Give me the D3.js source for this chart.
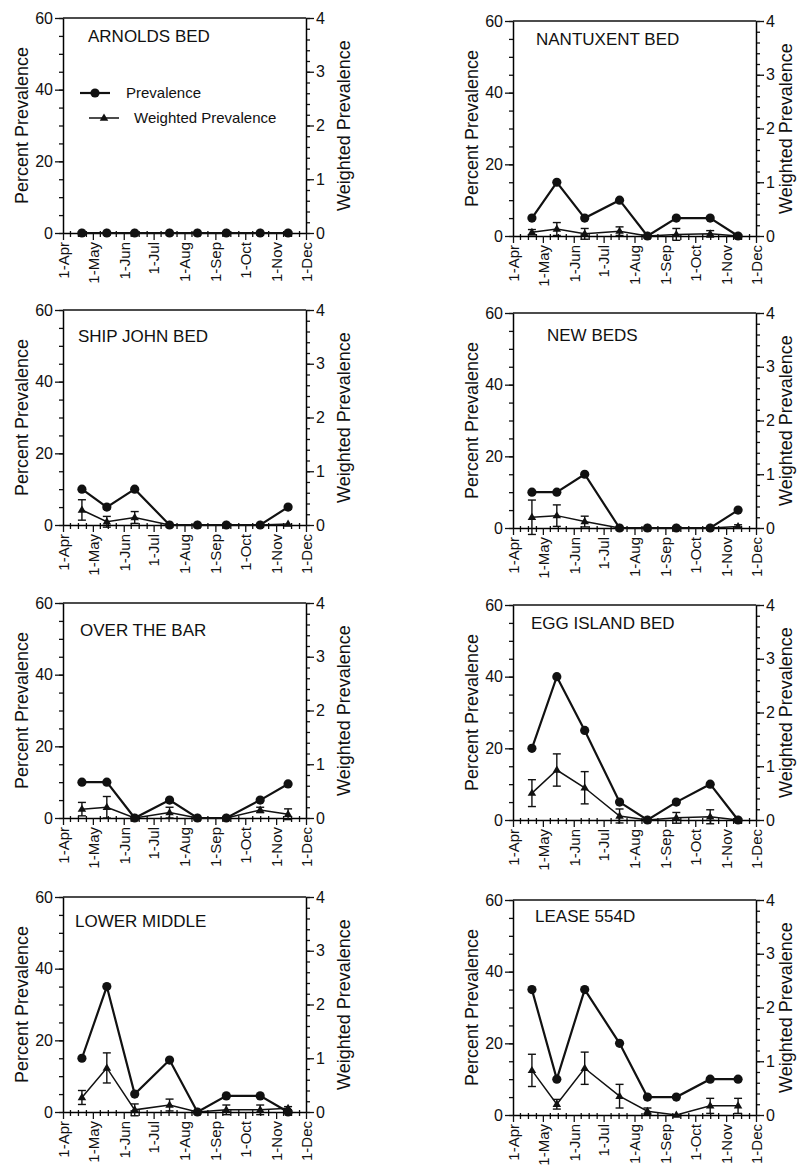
<!DOCTYPE html>
<html>
<head>
<meta charset="utf-8">
<script src="https://cdn.jsdelivr.net/npm/d3@7"></script>
<style>
  body { margin: 0; background: #fff; }
  text { font-family: "Liberation Sans", Arial, Helvetica, sans-serif; fill: #111; }
</style>
</head>
<body>
<div id="chart"></div>
<script>
// sampling dates (same for all beds)
const sampleDates = ["1996-04-20", "1996-05-15", "1996-06-12", "1996-07-17",
                     "1996-08-14", "1996-09-12", "1996-10-16", "1996-11-13"];

const beds = ["ARNOLDS BED", "NANTUXENT BED", "SHIP JOHN BED", "NEW BEDS",
              "OVER THE BAR", "EGG ISLAND BED", "LOWER MIDDLE", "LEASE 554D"];

// percent prevalence
const prevalence = [
    [0, 0, 0, 0, 0, 0, 0, 0],
    [5, 15, 5, 10, 0, 5, 5, 0],
    [10, 5, 10, 0, 0, 0, 0, 5],
    [10, 10, 15, 0, 0, 0, 0, 5],
    [10, 10, 0, 5, 0, 0, 5, 9.5],
    [20, 40, 25, 5, 0, 5, 10, 0],
    [15, 35, 5, 14.5, 0, 4.5, 4.5, 0],
    [35, 10, 35, 20, 5, 5, 10, 10]
];

// weighted prevalence and its standard error
const weighted = [
    [0, 0, 0, 0, 0, 0, 0, 0],
    [0.07, 0.13, 0.04, 0.09, 0, 0.03, 0.04, 0],
    [0.28, 0.06, 0.14, 0, 0, 0, 0, 0.02],
    [0.2, 0.23, 0.12, 0, 0, 0, 0, 0.03],
    [0.165, 0.2, 0, 0.1, 0, 0, 0.15, 0.07],
    [0.5, 0.93, 0.6, 0.075, 0, 0.04, 0.06, 0],
    [0.27, 0.82, 0.04, 0.13, 0, 0.04, 0.04, 0.07],
    [0.83, 0.2, 0.87, 0.35, 0.07, 0, 0.17, 0.17]
];
const weightedSE = [
    [0, 0, 0, 0, 0, 0, 0, 0],
    [0.05, 0.12, 0.1, 0.08, 0, 0.11, 0.06, 0],
    [0.19, 0.1, 0.11, 0, 0, 0, 0, 0],
    [0.32, 0.2, 0.1, 0, 0, 0, 0, 0.03],
    [0.125, 0.2, 0, 0.1, 0, 0, 0.05, 0.1],
    [0.25, 0.3, 0.3, 0.13, 0, 0.1, 0.13, 0],
    [0.13, 0.28, 0.11, 0.11, 0, 0.09, 0.09, 0.03],
    [0.3, 0.09, 0.3, 0.22, 0.06, 0, 0.14, 0.14]
];

const pctTicks = [0, 20, 40, 60];
const wTicks = [0, 1, 2, 3, 4];
const legendLabels = ["Prevalence", "Weighted Prevalence"];

// layout
const totalW = 800, totalH = 1174;
const panelW = 243, panelH = 215;
const colX = [63, 513];
const rowY = [[18, 310, 603, 897], [21, 313, 605, 900]];
const rightTitleGap = [44, 36];
const titleOffset = [[25, 24], [23, 24], [15, 32], [34, 28], [17, 33], [18, 24], [12, 30], [22, 22]];

const parse = d3.timeParse("%Y-%m-%d");
const dates = sampleDates.map(parse);

const svg = d3.select("#chart")
    .append("svg")
    .attr("width", totalW)
    .attr("height", totalH);

const x = d3.scaleTime()
    .domain([new Date(1996, 3, 1), new Date(1996, 11, 1)])
    .range([0, panelW]);
const yL = d3.scaleLinear().domain([0, 60]).range([panelH, 0]);
const yR = d3.scaleLinear().domain([0, 4]).range([panelH, 0]);

const minorDays = d3.timeDay.range(x.domain()[0], x.domain()[1])
    .filter(d => [8, 16, 24].includes(d.getDate()));

function tri(cx, cy, s) {
    return `M${cx},${cy - s}L${cx + s * 0.95},${cy + s * 0.6}L${cx - s * 0.95},${cy + s * 0.6}Z`;
}

function panel(i) {
    const col = i % 2;
    const row = Math.floor(i / 2);
    const g = svg.append("g")
        .attr("transform", `translate(${colX[col]},${rowY[col][row]})`);

    // frame top
    g.append("line")
        .attr("x1", 0).attr("x2", panelW)
        .attr("y1", 0).attr("y2", 0)
        .attr("stroke", "#111").attr("stroke-width", 1.5);

    // left axis
    g.append("g")
        .call(d3.axisLeft(yL).tickValues(d3.range(0, 61, 5)).tickSize(4).tickFormat(""))
        .call(a => a.select(".domain").remove());
    const la = g.append("g")
        .call(d3.axisLeft(yL).tickValues(pctTicks).tickSize(8).tickSizeOuter(0).tickPadding(2));
    la.select(".domain").attr("stroke-width", 1.5);
    la.selectAll("text").style("font-size", "16px");

    // right axis
    const ra = g.append("g").attr("transform", `translate(${panelW},0)`);
    ra.append("g")
        .call(d3.axisRight(yR).tickValues(d3.range(0, 4.01, 0.2)).tickSize(4).tickFormat(""))
        .call(a => a.select(".domain").remove());
    const rb = ra.append("g")
        .call(d3.axisRight(yR).tickValues(wTicks).tickSize(8).tickSizeOuter(0).tickPadding(2)
            .tickFormat(d3.format("d")));
    rb.select(".domain").attr("stroke-width", 1.5);
    rb.selectAll("text").style("font-size", "16px");

    // bottom axis
    g.append("g")
        .attr("transform", `translate(0,${panelH})`)
        .call(d3.axisBottom(x).tickValues(minorDays).tickSize(4).tickFormat(""))
        .call(a => a.select(".domain").remove())
        .selectAll(".tick line").attr("y1", -2);
    const ba = g.append("g")
        .attr("transform", `translate(0,${panelH})`)
        .call(d3.axisBottom(x).ticks(d3.timeMonth.every(1)).tickSize(7).tickSizeOuter(0)
            .tickFormat(d3.timeFormat("%-d-%b")));
    ba.select(".domain").attr("stroke-width", 1.5);
    ba.selectAll("text")
        .attr("transform", "rotate(-90)")
        .attr("x", -9)
        .attr("y", 0)
        .attr("dy", "0.35em")
        .style("text-anchor", "end")
        .style("font-size", "15px");
    g.selectAll(".tick line").attr("stroke", "#111").attr("stroke-width", 1.3);

    // axis titles
    g.append("text")
        .attr("transform", "rotate(-90)")
        .attr("x", -panelH / 2)
        .attr("y", -35)
        .style("text-anchor", "middle")
        .style("font-size", "18px")
        .text("Percent Prevalence");
    g.append("text")
        .attr("transform", "rotate(-90)")
        .attr("x", -panelH / 2)
        .attr("y", panelW + rightTitleGap[col])
        .style("text-anchor", "middle")
        .style("font-size", "18px")
        .text("Weighted Prevalence");

    // bed name
    g.append("text")
        .attr("x", titleOffset[i][0])
        .attr("y", titleOffset[i][1])
        .style("font-size", "17px")
        .text(beds[i]);

    const pts = dates.map((d, k) => ({
        date: d, p: prevalence[i][k], w: weighted[i][k], se: weightedSE[i][k]
    }));

    // weighted prevalence with error bars
    g.append("path")
        .datum(pts)
        .attr("fill", "none")
        .attr("stroke", "#111")
        .attr("stroke-width", 1.5)
        .attr("d", d3.line().x(d => x(d.date)).y(d => yR(d.w)));

    const eb = g.selectAll(".err")
        .data(pts.filter(d => d.se > 0))
        .join("g")
        .attr("stroke", "#111")
        .attr("stroke-width", 1.4);
    eb.append("line")
        .attr("x1", d => x(d.date)).attr("x2", d => x(d.date))
        .attr("y1", d => yR(d.w - d.se)).attr("y2", d => yR(d.w + d.se));
    eb.append("line")
        .attr("x1", d => x(d.date) - 4).attr("x2", d => x(d.date) + 4)
        .attr("y1", d => yR(d.w + d.se)).attr("y2", d => yR(d.w + d.se));
    eb.append("line")
        .attr("x1", d => x(d.date) - 4).attr("x2", d => x(d.date) + 4)
        .attr("y1", d => yR(d.w - d.se)).attr("y2", d => yR(d.w - d.se));

    g.selectAll(".tri")
        .data(pts)
        .join("path")
        .attr("fill", "#111")
        .attr("d", d => tri(x(d.date), yR(d.w), 4.5));

    // percent prevalence
    g.append("path")
        .datum(pts)
        .attr("fill", "none")
        .attr("stroke", "#111")
        .attr("stroke-width", 2.2)
        .attr("d", d3.line().x(d => x(d.date)).y(d => yL(d.p)));

    g.selectAll(".dot")
        .data(pts)
        .join("circle")
        .attr("cx", d => x(d.date))
        .attr("cy", d => yL(d.p))
        .attr("r", 4.6)
        .attr("fill", "#111");

    if (i === 0) {
        const lg = g.append("g");
        lg.append("line")
            .attr("x1", 17).attr("x2", 47).attr("y1", 75).attr("y2", 75)
            .attr("stroke", "#111").attr("stroke-width", 2.2);
        lg.append("circle").attr("cx", 32).attr("cy", 75).attr("r", 4.6).attr("fill", "#111");
        lg.append("text").attr("x", 63).attr("y", 80)
            .style("font-size", "15px").text(legendLabels[0]);
        lg.append("line")
            .attr("x1", 26).attr("x2", 56).attr("y1", 100).attr("y2", 100)
            .attr("stroke", "#111").attr("stroke-width", 1.5);
        lg.append("path").attr("fill", "#111").attr("d", tri(41, 100, 4.5));
        lg.append("text").attr("x", 71).attr("y", 105)
            .style("font-size", "15px").text(legendLabels[1]);
    }
}

beds.forEach((b, i) => panel(i));
</script>
</body>
</html>
